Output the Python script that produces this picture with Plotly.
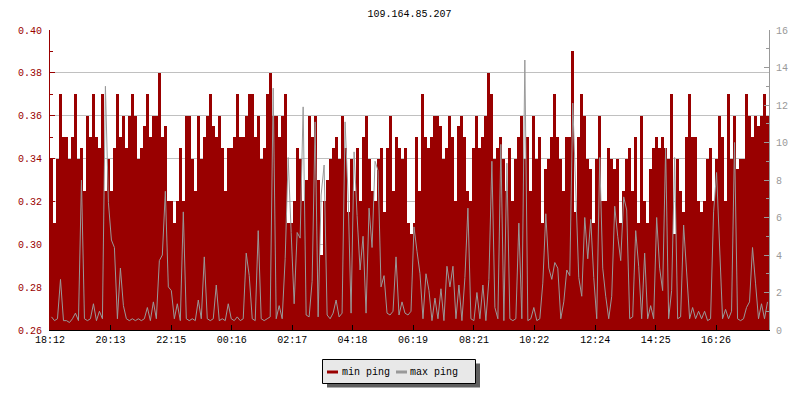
import plotly.graph_objects as go
import pandas as pd

title_text = "109.164.85.207"
start_time = "2024-01-01 18:12"
step_minutes = 6

min_ping = [
    0.34, 0.31, 0.34, 0.37, 0.35, 0.35, 0.34, 0.35, 0.37, 0.34,
    0.345, 0.325, 0.36, 0.35, 0.37, 0.35, 0.345, 0.37, 0.325, 0.34,
    0.325, 0.345, 0.37, 0.35, 0.36, 0.345, 0.36, 0.37, 0.36, 0.34,
    0.345, 0.355, 0.37, 0.35, 0.36, 0.36, 0.38, 0.35, 0.355, 0.32,
    0.32, 0.31, 0.32, 0.345, 0.32, 0.36, 0.36, 0.34, 0.325, 0.36,
    0.34, 0.35, 0.36, 0.37, 0.355, 0.35, 0.36, 0.345, 0.325, 0.345,
    0.345, 0.35, 0.37, 0.35, 0.35, 0.36, 0.37, 0.37, 0.35, 0.36,
    0.34, 0.345, 0.37, 0.38, 0.36, 0.36, 0.35, 0.36, 0.37, 0.31,
    0.31, 0.32, 0.345, 0.34, 0.32, 0.33, 0.36, 0.35, 0.36, 0.33,
    0.295, 0.32, 0.33, 0.34, 0.345, 0.35, 0.34, 0.36, 0.345, 0.315,
    0.34, 0.325, 0.345, 0.32, 0.35, 0.36, 0.34, 0.325, 0.32, 0.34,
    0.345, 0.315, 0.345, 0.36, 0.325, 0.35, 0.345, 0.34, 0.345, 0.31,
    0.305, 0.31, 0.35, 0.325, 0.37, 0.35, 0.345, 0.35, 0.36, 0.36,
    0.355, 0.34, 0.345, 0.36, 0.35, 0.32, 0.355, 0.36, 0.35, 0.325,
    0.32, 0.345, 0.36, 0.345, 0.35, 0.36, 0.38, 0.37, 0.34, 0.345,
    0.35, 0.34, 0.325, 0.345, 0.32, 0.34, 0.35, 0.36, 0.34, 0.35,
    0.325, 0.36, 0.34, 0.35, 0.31, 0.335, 0.34, 0.35, 0.37, 0.35,
    0.34, 0.325, 0.35, 0.35, 0.39, 0.315, 0.35, 0.37, 0.36, 0.34,
    0.335, 0.31, 0.34, 0.36, 0.32, 0.32, 0.345, 0.34, 0.335, 0.34,
    0.31, 0.325, 0.34, 0.345, 0.325, 0.35, 0.31, 0.36, 0.32, 0.31,
    0.335, 0.345, 0.35, 0.345, 0.35, 0.345, 0.34, 0.37, 0.305, 0.34,
    0.325, 0.315, 0.35, 0.37, 0.35, 0.35, 0.32, 0.315, 0.32, 0.34,
    0.345, 0.32, 0.34, 0.36, 0.35, 0.32, 0.37, 0.34, 0.36, 0.335,
    0.34, 0.34, 0.37, 0.36, 0.35, 0.36, 0.355, 0.36, 0.37, 0.36,
]

max_ping = [
    0.7, 0.5, 0.6, 2.7, 0.5, 0.5, 0.4, 0.6, 0.9, 0.5,
    8.0, 0.6, 0.5, 0.6, 1.4, 0.5, 1.0, 0.6, 13.0, 6.8,
    4.8, 4.4, 0.6, 3.3, 1.3, 0.6, 0.5, 0.6, 0.5, 0.6,
    0.5, 0.6, 1.2, 0.5, 1.5, 0.6, 3.7, 4.0, 7.4, 2.3,
    2.1, 0.6, 1.4, 0.5, 6.3, 0.6, 0.5, 0.6, 0.5, 1.6,
    0.6, 3.9, 0.6, 0.5, 0.6, 2.4, 0.5, 0.6, 0.5, 1.4,
    0.6, 0.5, 0.7, 0.5, 0.6, 4.1, 2.9, 0.6, 0.5, 5.3,
    0.6, 0.5, 0.6, 0.7, 12.9, 0.6, 1.3, 0.6, 3.8, 9.2,
    5.2, 1.4, 5.2, 4.9, 11.9, 0.8, 0.7, 2.6, 11.1, 0.7,
    7.2, 8.8, 0.8, 0.6, 0.9, 1.6, 0.7, 0.9, 11.1, 7.2,
    0.9, 9.5, 6.1, 3.2, 5.0, 0.9, 6.5, 4.4, 9.0, 8.5,
    2.3, 2.9, 0.9, 0.8, 1.0, 3.9, 0.8, 1.5, 0.9, 0.8,
    1.0, 5.5, 4.2, 3.0, 0.6, 3.0, 2.1, 0.5, 1.7, 0.6,
    2.2, 0.5, 3.4, 2.3, 3.4, 0.6, 2.4, 0.5, 2.8, 6.5,
    0.6, 0.5, 2.0, 0.6, 2.4, 0.5, 2.7, 9.0, 1.2, 0.6,
    9.9, 0.5, 8.9, 0.6, 0.5, 0.6, 5.7, 0.6, 14.4, 0.5,
    0.6, 1.2, 0.5, 0.6, 2.5, 6.2, 3.3, 2.7, 3.6, 3.3,
    0.6, 1.5, 3.2, 2.9, 12.1, 7.2, 2.8, 1.8, 6.0, 3.8,
    5.9, 2.8, 0.6, 9.2, 3.3, 1.8, 0.6, 1.8, 6.6, 5.0,
    3.7, 7.1, 6.4, 0.6, 0.7, 5.3, 3.4, 0.6, 4.1, 0.6,
    1.3, 0.6, 6.0, 3.3, 2.1, 9.7, 0.6, 2.1, 9.2, 0.6,
    0.7, 5.6, 3.0, 0.6, 1.2, 0.6, 1.0, 0.6, 1.0, 0.5,
    0.6, 6.3, 8.4, 4.5, 0.6, 1.1, 0.6, 1.0, 10.0, 0.6,
    0.5, 0.6, 1.2, 1.5, 4.4, 2.5, 0.6, 1.4, 0.6, 1.5,
]

x_tick_times = [
    "2024-01-01 18:12", "2024-01-01 20:13", "2024-01-01 22:15",
    "2024-01-02 00:16", "2024-01-02 02:17", "2024-01-02 04:18",
    "2024-01-02 06:19", "2024-01-02 08:21", "2024-01-02 10:22",
    "2024-01-02 12:24", "2024-01-02 14:25", "2024-01-02 16:26",
]
x_tick_labels = ["18:12", "20:13", "22:15", "00:16", "02:17", "04:18",
                 "06:19", "08:21", "10:22", "12:24", "14:25", "16:26"]
left_ticks = [0.26, 0.28, 0.30, 0.32, 0.34, 0.36, 0.38, 0.40]
right_ticks = [0, 2, 4, 6, 8, 10, 12, 14, 16]
series_names = ["min ping", "max ping"]

RED = "#990000"
GREY = "#999999"
FONT = "Liberation Mono"

times = pd.date_range(start_time, periods=len(min_ping), freq=f"{step_minutes}min")
x_end = pd.Timestamp(start_time) + pd.Timedelta(minutes=1440)
half_step = pd.Timedelta(minutes=step_minutes / 2)

fig = go.Figure()
fig.add_trace(go.Bar(
    x=times, y=min_ping, name=series_names[0],
    width=step_minutes * 60 * 1000, offset=0,
    marker=dict(color=RED, line=dict(width=0)),
    showlegend=False,
))
fig.add_trace(go.Scatter(
    x=times + half_step, y=max_ping, name=series_names[1], yaxis="y2",
    mode="lines", line=dict(color=GREY, width=1),
    showlegend=False,
))

# page has an 8px body margin; figure placed so plot area is at x 50..769, y 30..330 of the window
OX, OY = 8, 8
W, H = 800 - OX, 400 - OY
L, T = 50 - OX, 30 - OY
pw, ph = 719, 300
R, B = W - L - pw, H - T - ph


def px(x):
    return (x - OX - L) / pw


def py(y):
    return (T + ph - (y - OY)) / ph


shapes = [
    dict(type="rect", xref="paper", yref="paper", x0=px(327), x1=px(480),
         y0=py(387.5), y1=py(363.5), fillcolor="#5f5f5f", line=dict(width=0), layer="above"),
    dict(type="rect", xref="paper", yref="paper", x0=px(322.5), x1=px(475.5),
         y0=py(383.5), y1=py(359.5), fillcolor="#e8e8e8", line=dict(color="black", width=1), layer="above"),
    dict(type="line", xref="paper", yref="paper", x0=px(327), x1=px(338),
         y0=py(372), y1=py(372), line=dict(color=RED, width=3), layer="above"),
    dict(type="line", xref="paper", yref="paper", x0=px(396), x1=px(407),
         y0=py(372), y1=py(372), line=dict(color=GREY, width=3), layer="above"),
]
annotations = [
    dict(text=series_names[0], xref="paper", yref="paper", x=px(340), y=py(372.5),
         xanchor="left", yanchor="middle", showarrow=False,
         font=dict(family=FONT, size=10, color="black")),
    dict(text=series_names[1], xref="paper", yref="paper", x=px(408), y=py(372.5),
         xanchor="left", yanchor="middle", showarrow=False,
         font=dict(family=FONT, size=10, color="black")),
]

fig.update_layout(
    width=W, height=H,
    margin=dict(l=L, r=R, t=T, b=B, autoexpand=False),
    paper_bgcolor="white", plot_bgcolor="white",
    bargap=0,
    title=dict(text=title_text, x=0.5, xref="paper", xanchor="center",
               y=1 - (13.5 - OY) / H, yref="container", yanchor="middle",
               font=dict(family=FONT, size=10, color="black"),
               automargin=False),
    font=dict(family=FONT, size=10),
    xaxis=dict(
        type="date", range=[times[0], x_end], automargin=False,
        tickmode="array", tickvals=x_tick_times, ticktext=x_tick_labels,
        ticks="inside", ticklen=5, tickcolor="black", tickwidth=1,
        showline=True, linecolor="black", linewidth=1,
        showgrid=False, zeroline=False,
        tickfont=dict(family=FONT, size=10, color="black"),
    ),
    yaxis=dict(
        range=[0.26, 0.40], automargin=False,
        tickmode="array", tickvals=left_ticks,
        ticktext=[f"{v:.2f}" for v in left_ticks],
        ticks="inside", ticklen=5, tickcolor=RED, tickwidth=1,
        showline=True, linecolor=RED, linewidth=1,
        showgrid=True, gridcolor="#c0c0c0", gridwidth=1,
        zeroline=False,
        minor=dict(tickmode="linear", tick0=0.26, dtick=0.01, ticks="inside",
                   ticklen=3, tickcolor=RED, showgrid=False),
        tickfont=dict(family=FONT, size=10, color=RED),
        ticklabelstandoff=5,
    ),
    yaxis2=dict(
        overlaying="y", side="right", range=[0, 16], automargin=False,
        tickmode="array", tickvals=right_ticks,
        ticks="inside", ticklen=5, tickcolor=GREY, tickwidth=1,
        showline=True, linecolor=GREY, linewidth=1,
        showgrid=False, zeroline=False,
        minor=dict(tickmode="linear", tick0=0, dtick=1, ticks="inside",
                   ticklen=3, tickcolor=GREY, showgrid=False),
        tickfont=dict(family=FONT, size=10, color=GREY),
        ticklabelstandoff=4,
    ),
    shapes=shapes,
    annotations=annotations,
    showlegend=False,
)

fig.write_html("out.html")
